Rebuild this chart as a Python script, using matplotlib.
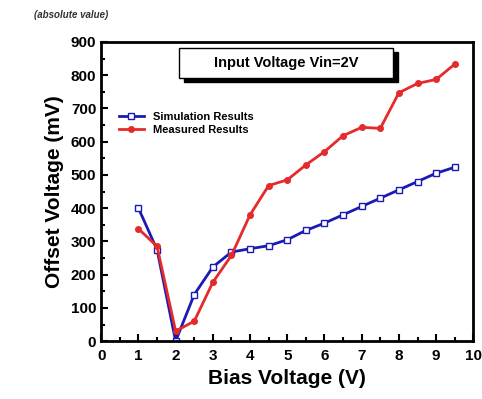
import matplotlib.pyplot as plt
from matplotlib.patches import Rectangle
from matplotlib.ticker import MultipleLocator

# Bias voltage (V)
bias = [1, 1.5, 2, 2.5, 3, 3.5, 4, 4.5, 5, 5.5, 6, 6.5, 7, 7.5, 8, 8.5, 9, 9.5]
# Offset voltage (mV)
simulation = [400, 275, 0, 140, 223, 268, 278, 287, 305, 333, 355, 380,
              405, 430, 455, 480, 505, 523]
measured = [338, 285, 30, 60, 177, 258, 380, 468, 485, 530, 570, 618,
            643, 640, 747, 775, 787, 833]

plt.rcParams['font.family'] = ['Liberation Sans', 'DejaVu Sans']
plt.rcParams['font.weight'] = 'bold'

fig = plt.figure(figsize=(4.82, 3.99), dpi=100)
ax = fig.add_axes([0.21, 0.145, 0.772, 0.75])

ax.plot(bias, simulation, '-s', color='#1a1ab4', lw=2, ms=4.5,
        mfc='white', mec='#1a1ab4', mew=1, label='Simulation Results')
ax.plot(bias, measured, '-o', color='#e42a2a', lw=2, ms=4,
        label='Measured Results')

ax.set_xlim(0, 10)
ax.set_ylim(0, 900)
ax.xaxis.set_major_locator(MultipleLocator(1))
ax.xaxis.set_minor_locator(MultipleLocator(0.5))
ax.yaxis.set_major_locator(MultipleLocator(100))
ax.yaxis.set_minor_locator(MultipleLocator(50))
ax.tick_params(which='both', direction='in', width=1.5, labelsize=11)
ax.tick_params(which='major', length=5)
ax.tick_params(which='minor', length=3)
ax.tick_params(axis='x', pad=6)
for s in ax.spines.values():
    s.set_linewidth(2)

ax.set_xlabel('Bias Voltage (V)', fontsize=15, fontweight='bold', labelpad=4)
ax.set_ylabel('Offset Voltage (mV)', fontsize=15, fontweight='bold', labelpad=5)

ax.legend(loc='upper left', bbox_to_anchor=(0.02, 0.8), frameon=False,
          handlelength=2.3, labelspacing=0.3,
          prop={'weight': 'bold', 'size': 8})

# title box with shadow
ax.add_patch(Rectangle((0.222, 0.865), 0.575, 0.1, transform=ax.transAxes,
                       facecolor='black', edgecolor='black', zorder=4))
ax.add_patch(Rectangle((0.21, 0.88), 0.575, 0.1, transform=ax.transAxes,
                       facecolor='white', edgecolor='black', lw=1, zorder=5))
ax.text(0.4975, 0.93, 'Input Voltage Vin=2V', transform=ax.transAxes,
        ha='center', va='center', fontsize=10.5, fontweight='bold', zorder=6)

fig.text(0.07, 0.955, '(absolute value)', fontsize=7, fontstyle='italic',
         fontweight='bold', color='#333333')

fig.savefig('out.png', dpi=100)
